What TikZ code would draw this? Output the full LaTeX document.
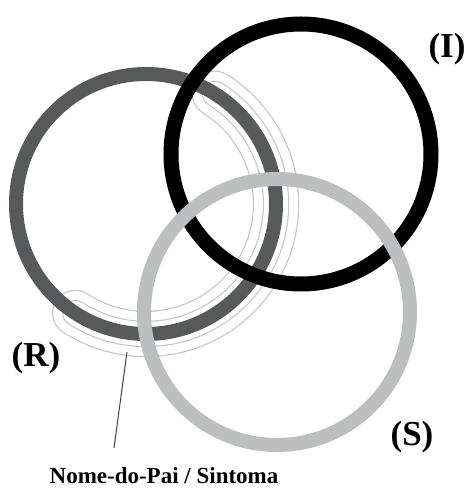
\documentclass[tikz,border=0pt]{standalone}
\usepackage{fontspec}
\setmainfont{Liberation Serif}
\definecolor{rcol}{HTML}{58595B}
\definecolor{scol}{HTML}{BCBEC0}
\definecolor{tcol}{HTML}{C6C6C6}
\definecolor{pcol}{HTML}{404040}
\begin{document}
\begin{tikzpicture}[x=1pt,y=1pt,
  ringline/.style={line width=14pt},
  tubeedge/.style={draw=tcol, line cap=round},
  tubefill/.style={draw=white, line cap=round},
  lab/.style={font=\bfseries\fontsize{35}{40}\selectfont, anchor=base, inner sep=0pt},
  caption/.style={font=\bfseries\fontsize{23}{26}\selectfont, anchor=base, inner sep=0pt}]
\useasboundingbox (0,0) rectangle (473,488);
\coordinate (Rc) at (146,284);
\coordinate (Ic) at (301,334);
\coordinate (Sc) at (277,176);
% Sintoma tube (outer and inner bands)
\draw[tubeedge, line width=46.4pt] (Rc) ++(58:130) arc[start angle=58, end angle=-123, radius=130];
\draw[tubefill, line width=44pt] (Rc) ++(58:130) arc[start angle=58, end angle=-123, radius=130];
\draw[tubeedge, line width=26.4pt] (Rc) ++(58:130) arc[start angle=58, end angle=-123, radius=130];
\draw[tubefill, line width=24pt] (Rc) ++(58:130) arc[start angle=58, end angle=-123, radius=130];
% rings
\draw[ringline, draw=rcol] (Rc) circle[radius=130];
\draw[ringline, draw=black, line width=15pt] (Ic) circle[radius=130];
\draw[ringline, draw=scol] (Sc) circle[radius=133];
% labels
\node[lab] (labI) at (447,430) {(I)};
\node[lab] (labR) at (36,121) {(R)};
\node[lab] (labS) at (412,42) {(S)};
\node[caption] (cap) at (164,5) {Nome-do-Pai / Sintoma};
\coordinate (ptop) at (127,136);
\coordinate (pbot) at (114,40);
\draw[pcol, line width=1pt] (ptop) -- (pbot);
\end{tikzpicture}
\end{document}
